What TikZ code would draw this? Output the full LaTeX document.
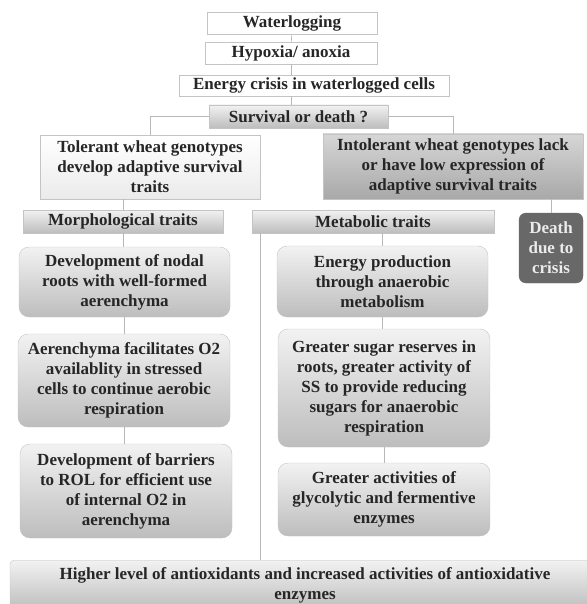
\documentclass[tikz,border=0pt]{standalone}
\usepackage{fontspec}
\setmainfont{Liberation Serif}
\definecolor{linegray}{HTML}{B8B8B8}
\definecolor{boxline}{HTML}{C4C4C4}
\definecolor{textdark}{HTML}{262626}
\definecolor{shadetop}{HTML}{F2F2F2}
\definecolor{shadebot}{HTML}{BDBDBD}
\definecolor{deadgray}{HTML}{686868}

\begin{document}
\begin{tikzpicture}[x=1pt, y=-1pt,
    every node/.style={font=\bfseries\fontsize{17}{20}\selectfont, text=textdark, align=center, inner sep=0pt},
    plainbox/.style={draw=boxline, fill=white},
    shadebox/.style={draw=boxline, top color=shadetop, bottom color=shadebot},
    roundbox/.style={shadebox, rounded corners=10pt},
    link/.style={draw=linegray, line width=0.6pt}]
  \useasboundingbox (0,0) rectangle (586,604);

  % top chain
  \node[plainbox, minimum width=170pt, minimum height=22pt] (water) at (292,23.5) {Waterlogging};
  \node[plainbox, minimum width=172pt, minimum height=22pt] (hypoxia) at (291,53) {Hypoxia/ anoxia};
  \node[plainbox, minimum width=270pt, minimum height=21pt] (energy) at (314,85.5) {Energy crisis in waterlogged cells};
  \node[shadebox, minimum width=179pt, minimum height=23pt] (survival) at (298.5,116.5) {Survival or death ?};

  % genotypes
  \node[draw=boxline, top color=white, bottom color=black!8, minimum width=220pt, minimum height=64pt] (tolerant) at (150,167)
    {Tolerant wheat genotypes\\develop adaptive survival\\traits};
  \node[draw=boxline, top color=black!16, bottom color=black!34, minimum width=260pt, minimum height=65pt] (intolerant) at (453,166.5)
    {Intolerant wheat genotypes lack\\or have low expression of\\adaptive survival traits};
  \node[draw=deadgray, fill=deadgray, rounded corners=7pt, text=black!8, minimum width=64pt, minimum height=70pt] (death) at (551,248)
    {Death\\due to\\crisis};

  % trait headers
  \node[shadebox, minimum width=200pt, minimum height=23pt] (morph) at (123,221.5) {Morphological traits};
  \node[shadebox, minimum width=242pt, minimum height=23pt] (metab) at (373,221.5) {Metabolic traits};

  % morphological traits
  \node[roundbox, minimum width=211pt, minimum height=70pt] (nodal) at (124.5,282)
    {Development of nodal\\roots with well-formed\\aerenchyma};
  \node[roundbox, minimum width=212pt, minimum height=93pt] (aeren) at (124,380.5)
    {Aerenchyma facilitates O2\\availablity in stressed\\cells to continue aerobic\\respiration};
  \node[roundbox, minimum width=212pt, minimum height=94pt] (barrier) at (126,491)
    {Development of barriers\\to ROL for efficient use\\of internal O2 in\\aerenchyma};

  % metabolic traits
  \node[roundbox, minimum width=211pt, minimum height=71pt] (anaer) at (382.5,281.5)
    {Energy production\\through anaerobic\\metabolism};
  \node[roundbox, minimum width=212pt, minimum height=118pt] (sugar) at (384,388)
    {Greater sugar reserves in\\roots, greater activity of\\SS to provide reducing\\sugars for anaerobic\\respiration};
  \node[roundbox, minimum width=212pt, minimum height=73pt] (glyco) at (384,499.5)
    {Greater activities of\\glycolytic and fermentive\\enzymes};

  % antioxidants
  \node[shadebox, rounded corners=4pt, anchor=north, minimum width=590pt, minimum height=50pt] (antiox) at (305,560)
    {Higher level of antioxidants and increased activities of antioxidative\\enzymes};

  % connectors
  \draw[link] (water) -- (hypoxia);
  \draw[link] (hypoxia) -- (hypoxia |- energy.north);
  \draw[link] (hypoxia |- energy.south) -- (hypoxia |- survival.north);
  \draw[link] (survival.west) -| (tolerant.north);
  \draw[link] (survival.east) -| (intolerant.north);
  \draw[link] (morph.north) -- (morph.north |- tolerant.south);
  \draw[link] (death.north) -- (death.north |- intolerant.south);
  \draw[link] (morph.south) -- (morph.south |- nodal.north);
  \draw[link] (nodal) -- (nodal |- aeren.north);
  \draw[link] (aeren) -- (aeren |- barrier.north);
  \draw[link] (anaer.north) -- (anaer.north |- metab.south);
  \draw[link] (anaer) -- (anaer |- sugar.north);
  \draw[link] (sugar) -- (sugar |- glyco.north);
  \draw[link] ([xshift=8pt]metab.south west) -- ([xshift=8pt]metab.south west |- antiox.north);
\end{tikzpicture}
\end{document}
